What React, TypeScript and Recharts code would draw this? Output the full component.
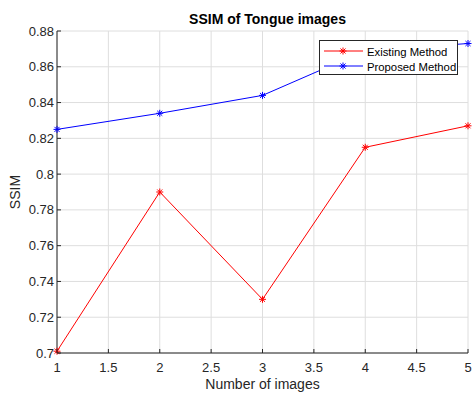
import React from "react";
import { LineChart, Line, XAxis, YAxis, CartesianGrid } from "recharts";

const xValues = [1, 2, 3, 4, 5];
const existingMethod = [0.701, 0.79, 0.73, 0.815, 0.827];
const proposedMethod = [0.825, 0.834, 0.844, 0.869, 0.873];
const xTicks = [1, 1.5, 2, 2.5, 3, 3.5, 4, 4.5, 5];
const yTicks = [0.7, 0.72, 0.74, 0.76, 0.78, 0.8, 0.82, 0.84, 0.86, 0.88];
const seriesNames = ["Existing Method", "Proposed Method"];
const seriesColors = ["#ff0000", "#0000ff"];

const data = xValues.map((x, i) => ({
  x,
  existing: existingMethod[i],
  proposed: proposedMethod[i],
}));

const FONT = '"Liberation Sans", Arial, Helvetica, sans-serif';
const AXIS = "#262626";
const TICK_LEN = 4;

const fmt = (v: number) => String(Number(v.toFixed(2)));

const BottomTick = (props: any) => {
  const { x, y, payload } = props;
  return (
    <g>
      <line x1={x} y1={y} x2={x} y2={y - TICK_LEN} stroke={AXIS} strokeWidth={1} />
      <text x={x} y={y + 19} textAnchor="middle" fill={AXIS} fontSize={13} fontFamily={FONT}>
        {fmt(payload.value)}
      </text>
    </g>
  );
};

const TopTick = (props: any) => {
  const { x, y } = props;
  return <line x1={x} y1={y} x2={x} y2={y + TICK_LEN} stroke={AXIS} strokeWidth={1} />;
};

const LeftTick = (props: any) => {
  const { x, y, payload } = props;
  return (
    <g>
      <line x1={x} y1={y} x2={x + TICK_LEN} y2={y} stroke={AXIS} strokeWidth={1} />
      <text x={x - 3} y={y + 4.5} textAnchor="end" fill={AXIS} fontSize={13} fontFamily={FONT}>
        {fmt(payload.value)}
      </text>
    </g>
  );
};

const RightTick = (props: any) => {
  const { x, y } = props;
  return <line x1={x} y1={y} x2={x - TICK_LEN} y2={y} stroke={AXIS} strokeWidth={1} />;
};

const makeStar = (color: string) => (props: any) => {
  const { cx, cy, index } = props;
  if (cx == null || cy == null) return <g key={index} />;
  const r = 3.5;
  const d = r * 0.72;
  return (
    <g key={index} stroke={color} strokeWidth={1}>
      <line x1={cx - r} y1={cy} x2={cx + r} y2={cy} />
      <line x1={cx} y1={cy - r} x2={cx} y2={cy + r} />
      <line x1={cx - d} y1={cy - d} x2={cx + d} y2={cy + d} />
      <line x1={cx - d} y1={cy + d} x2={cx + d} y2={cy - d} />
    </g>
  );
};

const LegendStar = ({ color }: { color: string }) => {
  const cx = 23, cy = 0, r = 3.5, d = r * 0.72;
  return (
    <g stroke={color} strokeWidth={1}>
      <line x1={4} y1={cy} x2={43} y2={cy} />
      <line x1={cx - r} y1={cy} x2={cx + r} y2={cy} />
      <line x1={cx} y1={cy - r} x2={cx} y2={cy + r} />
      <line x1={cx - d} y1={cy - d} x2={cx + d} y2={cy + d} />
      <line x1={cx - d} y1={cy + d} x2={cx + d} y2={cy - d} />
    </g>
  );
};

export default function App() {
  return (
    <div style={{ position: "absolute", left: 0, top: 0, width: 475, height: 394, background: "#fff" }}>
      <LineChart width={475} height={394} data={data} margin={{ top: 31, right: 7, bottom: 0, left: 0 }}>
        <CartesianGrid xAxisId="bottom" yAxisId="left" stroke="#dedede" strokeWidth={1} />
        <XAxis
          xAxisId="bottom"
          dataKey="x"
          type="number"
          domain={[1, 5]}
          ticks={xTicks}
          height={41}
          tickSize={0}
          tickMargin={0}
          tickLine={false}
          axisLine={{ stroke: AXIS, strokeWidth: 1 }}
          tick={<BottomTick />}
          interval={0}
        />
        <XAxis
          xAxisId="top"
          orientation="top"
          dataKey="x"
          type="number"
          domain={[1, 5]}
          ticks={xTicks}
          height={0}
          tickSize={0}
          tickMargin={0}
          tickLine={false}
          axisLine={{ stroke: AXIS, strokeWidth: 1 }}
          tick={<TopTick />}
          interval={0}
        />
        <YAxis
          yAxisId="left"
          type="number"
          domain={[0.7, 0.88]}
          ticks={yTicks}
          width={57}
          tickSize={0}
          tickMargin={0}
          tickLine={false}
          axisLine={{ stroke: AXIS, strokeWidth: 1 }}
          tick={<LeftTick />}
          interval={0}
        />
        <YAxis
          yAxisId="right"
          orientation="right"
          type="number"
          domain={[0.7, 0.88]}
          ticks={yTicks}
          width={0}
          tickSize={0}
          tickMargin={0}
          tickLine={false}
          axisLine={{ stroke: AXIS, strokeWidth: 1 }}
          tick={<RightTick />}
          interval={0}
        />
        <Line
          xAxisId="bottom"
          yAxisId="left"
          dataKey="existing"
          stroke={seriesColors[0]}
          strokeWidth={1}
          dot={makeStar(seriesColors[0])}
          activeDot={false}
          isAnimationActive={false}
        />
        <Line
          xAxisId="bottom"
          yAxisId="left"
          dataKey="proposed"
          stroke={seriesColors[1]}
          strokeWidth={1}
          dot={makeStar(seriesColors[1])}
          activeDot={false}
          isAnimationActive={false}
        />
      </LineChart>
      <div
        style={{
          position: "absolute",
          left: 0,
          width: 535,
          top: 11,
          textAlign: "center",
          fontFamily: FONT,
          fontWeight: "bold",
          fontSize: 14,
          color: "#000",
          lineHeight: "16px",
        }}
      >
        SSIM of Tongue images
      </div>
      <div
        style={{
          position: "absolute",
          left: 57,
          width: 411,
          top: 376,
          textAlign: "center",
          fontFamily: FONT,
          fontSize: 14,
          color: AXIS,
          lineHeight: "16px",
        }}
      >
        Number of images
      </div>
      <div
        style={{
          position: "absolute",
          left: 15 - 40,
          top: 192 - 8,
          width: 80,
          textAlign: "center",
          fontFamily: FONT,
          fontSize: 14,
          color: AXIS,
          lineHeight: "16px",
          transform: "rotate(-90deg)",
        }}
      >
        SSIM
      </div>
      <div
        style={{
          position: "absolute",
          left: 319,
          top: 40,
          width: 137,
          height: 33,
          border: "1px solid " + AXIS,
          background: "#fff",
        }}
      >
        <svg width={137} height={33} style={{ position: "absolute", left: 0, top: 0 }}>
          {seriesNames.map((name, i) => (
            <g key={name} transform={`translate(0, ${10 + i * 15})`}>
              <LegendStar color={seriesColors[i]} />
              <text x={47} y={4.5} fontSize={11.3} fontFamily={FONT} fill="#000">
                {name}
              </text>
            </g>
          ))}
        </svg>
      </div>
    </div>
  );
}
